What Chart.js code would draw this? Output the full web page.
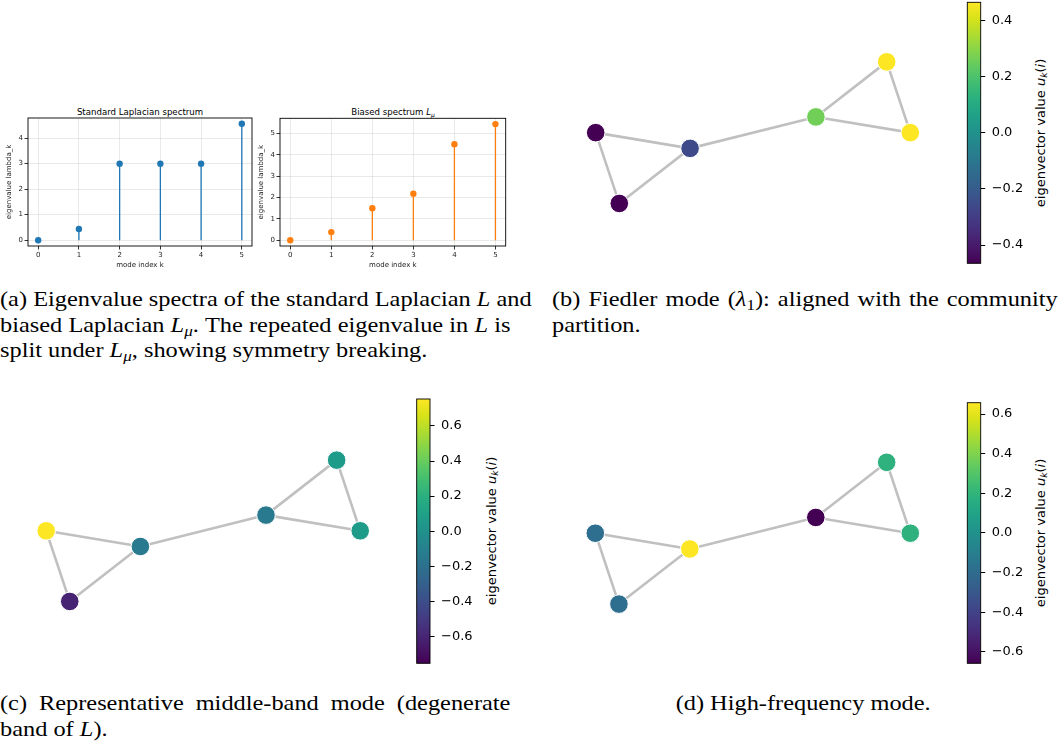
<!DOCTYPE html>
<html><head><meta charset="utf-8">
<script src="https://cdn.jsdelivr.net/npm/chart.js@4.4.1/dist/chart.umd.min.js"></script>
<style>
html,body{margin:0;padding:0;background:#fff;}
body{width:1061px;height:742px;position:relative;overflow:hidden;font-family:"DejaVu Sans",sans-serif;}
canvas{position:absolute;}
.cap{position:absolute;font-family:"Liberation Serif","Times New Roman",serif;font-size:21px;line-height:25.5px;color:#000;transform:scaleX(1.16);transform-origin:0 0;}
.cap div{white-space:nowrap;}
.cap .j{text-align:justify;text-align-last:justify;}
.cap sub{font-size:0.7em;vertical-align:-0.25em;line-height:0;}
.ptitle{position:absolute;font-size:8.6px;color:#000;white-space:nowrap;transform:translate(-50%,-50%);}
.ptitle sub{font-size:0.7em;vertical-align:-0.25em;line-height:0;}
.cblabel{position:absolute;font-size:13px;color:#000;white-space:nowrap;transform:translate(-50%,-50%) rotate(-90deg);}
.cblabel sub{font-size:0.7em;vertical-align:-0.25em;line-height:0;}
</style></head>
<body>
<div class="ptitle" style="left:140px;top:112px;">Standard Laplacian spectrum</div>
<div class="ptitle" style="left:393px;top:112px;">Biased spectrum <i>L</i><sub><i>μ</i></sub></div>

<div class="cblabel" style="left:1040px;top:133px;">eigenvector value <i>u<sub>k</sub></i>(<i>i</i>)</div>
<div class="cblabel" style="left:491px;top:531px;">eigenvector value <i>u<sub>k</sub></i>(<i>i</i>)</div>
<div class="cblabel" style="left:1040px;top:533px;">eigenvector value <i>u<sub>k</sub></i>(<i>i</i>)</div>

<div class="cap" style="left:0px;top:287px;width:440px;">
<div class="j">(a) Eigenvalue spectra of the standard Laplacian <i>L</i> and</div>
<div class="j">biased Laplacian <i>L</i><sub><i>μ</i></sub>. The repeated eigenvalue in <i>L</i> is</div>
<div>split under <i>L</i><sub><i>μ</i></sub>, showing symmetry breaking.</div>
</div>
<div class="cap" style="left:552px;top:287px;width:436px;">
<div class="j">(b) Fiedler mode (<i>λ</i><sub>1</sub>): aligned with the community</div>
<div>partition.</div>
</div>
<div class="cap" style="left:0px;top:691px;width:440px;">
<div class="j">(c) Representative middle-band mode (degenerate</div>
<div>band of <i>L</i>).</div>
</div>
<div class="cap" style="left:552px;top:691px;width:433px;">
<div style="text-align:center;">(d) High-frequency mode.</div>
</div>

<script>
// ---------------- data ----------------
const modeIndex = [0, 1, 2, 3, 4, 5];
const lambdaStandard = [0.00, 0.44, 3.00, 3.00, 3.00, 4.56];
const lambdaBiased = [0.00, 0.38, 1.50, 2.18, 4.50, 5.44];
const yTicksStandard = [0, 1, 2, 3, 4];
const yTicksBiased = [0, 1, 2, 3, 4, 5];

// graph layout (node positions) and edges
const nodeX = [-1.00, -0.85, -0.40, 0.40, 0.85, 1.00];
const nodeY = [0.00, -0.45, -0.10, 0.10, 0.45, 0.00];
const edges = [[0,1],[0,2],[1,2],[2,3],[3,4],[3,5],[4,5]];

// eigenvector values per node
const fiedlerMode = [-0.465, -0.465, -0.261, 0.261, 0.465, 0.465];
const middleMode  = [0.754, -0.610, -0.144, -0.144, 0.072, 0.072];
const highMode    = [-0.184, -0.184, 0.657, -0.657, 0.184, 0.184];

const cbarTicksB = [-0.4, -0.2, 0.0, 0.2, 0.4];
const cbarTicksC = [-0.6, -0.4, -0.2, 0.0, 0.2, 0.4, 0.6];
const cbarTicksD = [-0.6, -0.4, -0.2, 0.0, 0.2, 0.4, 0.6];

// ---------------- helpers ----------------
const VIRIDIS = ['#440154','#48186a','#472d7b','#424086','#3b528b','#33638d','#2c728e','#26828e','#21918c','#1fa088','#28ae80','#3fbc73','#5ec962','#84d44b','#addc30','#d8e219','#fde725'];
function hex2rgb(h){return [parseInt(h.substr(1,2),16),parseInt(h.substr(3,2),16),parseInt(h.substr(5,2),16)];}
function viridis(t){
  t = Math.max(0, Math.min(1, t));
  const n = VIRIDIS.length - 1;
  const i = Math.min(n - 1, Math.floor(t * n));
  const f = t * n - i;
  const a = hex2rgb(VIRIDIS[i]), b = hex2rgb(VIRIDIS[i+1]);
  const c = a.map((v, j) => Math.round(v + (b[j] - v) * f));
  return 'rgb(' + c.join(',') + ')';
}
function makeCanvas(L, T, W, H){
  const c = document.createElement('canvas');
  c.width = W; c.height = H;
  c.style.left = L + 'px'; c.style.top = T + 'px';
  c.style.width = W + 'px'; c.style.height = H + 'px';
  document.body.appendChild(c);
  return c;
}
const framePlugin = {
  id: 'frame',
  afterDraw(chart){
    const a = chart.chartArea, ctx = chart.ctx;
    ctx.save(); ctx.strokeStyle = '#000'; ctx.lineWidth = 0.9;
    ctx.strokeRect(a.left, a.top, a.right - a.left, a.bottom - a.top);
    ctx.restore();
  }
};
Chart.defaults.font.family = '"DejaVu Sans", sans-serif';
Chart.defaults.animation = false;
Chart.defaults.devicePixelRatio = 1;

// ---------------- spectrum panels ----------------
function spectrumChart(box, area, values, yticks, color){
  const [L, T, W, H] = box;
  const cv = makeCanvas(L, T, W, H);
  const vmin = Math.min(...values), vmax = Math.max(...values);
  const m = (vmax - vmin) * 0.05;
  const stems = [];
  values.forEach((v, i) => { stems.push({x: modeIndex[i], y: 0}, {x: modeIndex[i], y: v}, {x: modeIndex[i], y: null}); });
  const tickFont = {size: 7, family: '"DejaVu Sans", sans-serif'};
  new Chart(cv, {
    type: 'scatter',
    data: {datasets: [
      {data: modeIndex.map((k, i) => ({x: k, y: values[i]})), pointRadius: 3.2, pointBackgroundColor: color, pointBorderWidth: 0, showLine: false, order: 0, clip: false},
      {data: stems, showLine: true, borderColor: color, borderWidth: 1.3, pointRadius: 0, spanGaps: false, order: 1}
    ]},
    options: {
      responsive: false, animation: false,
      layout: {autoPadding: false, padding: {left: 0, top: area.top - T, right: (L + W) - area.right, bottom: 0}},
      plugins: {legend: {display: false}, tooltip: {enabled: false}},
      scales: {
        x: {type: 'linear', min: modeIndex[0] - 0.25, max: modeIndex[modeIndex.length-1] + 0.25,
          afterBuildTicks: s => { s.ticks = modeIndex.map(v => ({value: v})); },
          afterFit: s => { s.height = (T + H) - area.bottom; s.paddingLeft = 0; s.paddingRight = 0; },
          ticks: {font: tickFont, color: '#222', padding: 1.5, maxRotation: 0},
          grid: {color: 'rgba(176,176,176,0.35)', lineWidth: 0.8, tickColor: '#000', tickLength: 3.5, tickWidth: 0.8},
          border: {display: false},
          title: {display: true, text: 'mode index k', font: tickFont, color: '#222', padding: {top: 0, bottom: 3}}
        },
        y: {type: 'linear', min: vmin - m, max: vmax + m,
          afterBuildTicks: s => { s.ticks = yticks.map(v => ({value: v})); },
          afterFit: s => { s.width = area.left - L; s.paddingTop = 0; s.paddingBottom = 0; },
          ticks: {font: tickFont, color: '#222', padding: 1.5},
          grid: {color: 'rgba(176,176,176,0.35)', lineWidth: 0.8, tickColor: '#000', tickLength: 3.5, tickWidth: 0.8},
          border: {display: false},
          title: {display: true, text: 'eigenvalue lambda_k', font: tickFont, color: '#222', padding: {top: 3, bottom: 0}}
        }
      }
    },
    plugins: [framePlugin]
  });
}
spectrumChart([2, 104, 256, 168], {left: 28, right: 252, top: 118, bottom: 246}, lambdaStandard, yTicksStandard, '#1f77b4');
spectrumChart([254, 104, 256, 168], {left: 280, right: 505.7, top: 118.3, bottom: 246}, lambdaBiased, yTicksBiased, '#ff7f0e');

// ---------------- graph panels ----------------
function graphChart(box, center, scale, values){
  const [L, T, W, H] = box;
  const cv = makeCanvas(L, T, W, H);
  const vmax = Math.max(...values.map(Math.abs));
  const colors = values.map(v => viridis((v + vmax) / (2 * vmax)));
  const edgeSets = edges.map(([a, b]) => ({
    data: [{x: nodeX[a], y: nodeY[a]}, {x: nodeX[b], y: nodeY[b]}],
    showLine: true, borderColor: '#c0c0c0', borderWidth: 2.6, pointRadius: 0, order: 1, clip: false
  }));
  new Chart(cv, {
    type: 'scatter',
    data: {datasets: [
      {data: nodeX.map((x, i) => ({x: x, y: nodeY[i]})), pointRadius: 9.3, pointBackgroundColor: colors,
       pointBorderColor: '#ffffff', pointBorderWidth: 1, showLine: false, order: 0, clip: false},
      ...edgeSets
    ]},
    options: {
      responsive: false, animation: false,
      layout: {autoPadding: false, padding: 0},
      plugins: {legend: {display: false}, tooltip: {enabled: false}},
      scales: {
        x: {display: false, type: 'linear', min: (L - center[0]) / scale, max: (L + W - center[0]) / scale},
        y: {display: false, type: 'linear', min: (center[1] - (T + H)) / scale, max: (center[1] - T) / scale}
      }
    }
  });
  return vmax;
}
function colorbarChart(box, area, vmax, ticks){
  const [L, T, W, H] = box;
  const cv = makeCanvas(L, T, W, H);
  const gradPlugin = {
    id: 'grad',
    beforeDatasetsDraw(chart){
      const a = chart.chartArea, ctx = chart.ctx;
      const g = ctx.createLinearGradient(0, a.bottom, 0, a.top);
      VIRIDIS.forEach((c, i) => g.addColorStop(i / (VIRIDIS.length - 1), c));
      ctx.save(); ctx.fillStyle = g;
      ctx.fillRect(a.left, a.top, a.right - a.left, a.bottom - a.top);
      ctx.restore();
    }
  };
  new Chart(cv, {
    type: 'scatter',
    data: {datasets: [{data: []}]},
    options: {
      responsive: false, animation: false,
      layout: {autoPadding: false, padding: {left: area.left - L, top: area.top - T, bottom: (T + H) - area.bottom, right: 0}},
      plugins: {legend: {display: false}, tooltip: {enabled: false}},
      scales: {
        x: {display: false, min: 0, max: 1},
        y: {position: 'right', type: 'linear', min: -vmax, max: vmax,
          afterBuildTicks: s => { s.ticks = ticks.map(v => ({value: v})); },
          afterFit: s => { s.width = (L + W) - area.right; s.paddingTop = 0; s.paddingBottom = 0; },
          ticks: {font: {size: 13}, color: '#000', padding: 6.5,
            callback: v => (v < -1e-9 ? '\u2212' : '') + Math.abs(v).toFixed(1)},
          grid: {drawOnChartArea: false, tickColor: '#000', tickLength: 4.5, tickWidth: 1},
          border: {display: false}
        }
      }
    },
    plugins: [gradPlugin, framePlugin]
  });
}
const vB = graphChart([565, 30, 380, 200], [753, 132.65], 157.3, fiedlerMode);
colorbarChart([960, 0, 75, 270], {left: 967.3, right: 980.7, top: 2.3, bottom: 263.3}, vB, cbarTicksB);

const vC = graphChart([15, 430, 380, 200], [203.2, 530.8], 157.0, middleMode);
colorbarChart([410, 392, 75, 280], {left: 416.7, right: 430, top: 399, bottom: 663.3}, vC, cbarTicksC);

const vD = graphChart([565, 430, 380, 200], [752.8, 533.2], 157.5, highMode);
colorbarChart([960, 392, 75, 280], {left: 967.3, right: 980.7, top: 402.7, bottom: 663.3}, vD, cbarTicksD);
</script>
</body></html>
